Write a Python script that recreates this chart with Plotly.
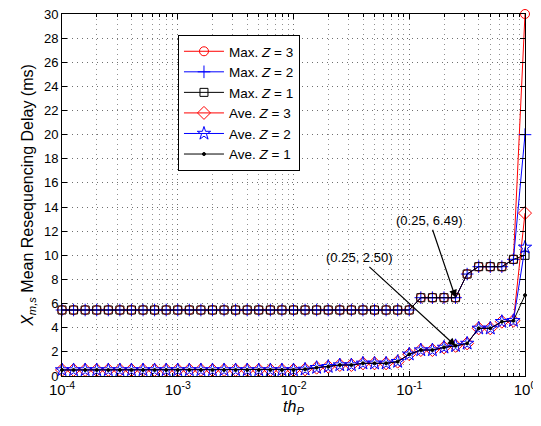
import plotly.graph_objects as go

th_p = [1.0e-4, 1.2589e-4, 1.5849e-4, 1.9953e-4, 2.5119e-4, 3.1623e-4, 3.9811e-4, 5.0119e-4, 6.3096e-4, 7.9433e-4,
        1.0e-3, 1.2589e-3, 1.5849e-3, 1.9953e-3, 2.5119e-3, 3.1623e-3, 3.9811e-3, 5.0119e-3, 6.3096e-3, 7.9433e-3,
        1.0e-2, 1.2589e-2, 1.5849e-2, 1.9953e-2, 2.5119e-2, 3.1623e-2, 3.9811e-2, 5.0119e-2, 6.3096e-2, 7.9433e-2,
        1.0e-1, 1.2589e-1, 1.5849e-1, 1.9953e-1, 2.5119e-1, 3.1623e-1, 3.9811e-1, 5.0119e-1, 6.3096e-1, 7.9433e-1,
        1.0]

x_tickvals = [1e-4, 1e-3, 1e-2, 1e-1, 1.0]
x_ticktext = ["10<sup>-4</sup>", "10<sup>-3</sup>", "10<sup>-2</sup>", "10<sup>-1</sup>", "10<sup>0</sup>"]

max_common = [5.47] * 31 + [6.49, 6.49, 6.49, 6.49, 8.45, 9.06, 9.06, 9.06, 9.67]
max_z3 = max_common + [30.0]
max_z2 = max_common + [20.0]
max_z1 = max_common + [10.0]

ave_common = [0.5] * 21 + [0.55, 0.69, 0.77, 0.91, 0.91, 1.05, 1.05, 1.05, 1.19,
                           1.8, 2.15, 2.15, 2.37, 2.50, 2.7, 3.95, 3.95, 4.5, 4.58]
ave_z3 = ave_common + [13.5]
ave_z2 = ave_common + [10.66]
ave_z1 = ave_common + [6.7]

series = [
    ("Max. <i>Z</i> = 3", max_z3, "#ff0000", "circle-open", 9),
    ("Max. <i>Z</i> = 2", max_z2, "#0000ff", "cross-thin-open", 9),
    ("Max. <i>Z</i> = 1", max_z1, "#000000", "square-open", 8),
    ("Ave. <i>Z</i> = 3", ave_z3, "#ff0000", "diamond-open", 10),
    ("Ave. <i>Z</i> = 2", ave_z2, "#0000ff", "star-open", 10),
    ("Ave. <i>Z</i> = 1", ave_z1, "#000000", "circle", 3),
]

fig = go.Figure()
for name, vals, color, sym, size in series:
    fig.add_trace(go.Scatter(
        x=th_p, y=vals, name=name, mode="lines+markers", cliponaxis=False,
        line=dict(color=color, width=1),
        marker=dict(symbol=sym, size=size, color=color, line=dict(color=color, width=1)),
    ))

font_family = "Liberation Sans, Arial, sans-serif"

# page body adds an 8px offset; figure sized so the plot area lands at x 62-525, y 14-376
fig.update_layout(
    width=533, height=418,
    margin=dict(l=54, r=16, t=6, b=50, autoexpand=False),
    paper_bgcolor="white", plot_bgcolor="white",
    font=dict(family=font_family, size=13, color="black"),
    legend=dict(
        x=0.2505, y=0.942, xanchor="left", yanchor="top",
        bgcolor="white", bordercolor="black", borderwidth=1,
        font=dict(size=13.5), tracegroupgap=0, itemwidth=40,
    ),
    showlegend=True,
)

fig.update_xaxes(
    type="log", range=[-4, 0], tickvals=x_tickvals, ticktext=x_ticktext,
    tickfont=dict(size=15),
    automargin=False, ticklabeloverflow="allow",
    showline=True, linecolor="black", linewidth=1, mirror="ticks",
    ticks="inside", ticklen=5, tickcolor="black",
    showgrid=True, gridcolor="#707070", griddash="1px,4px", gridwidth=1,
    minor=dict(ticks="inside", ticklen=3, tickcolor="black", dtick="D1",
               showgrid=True, gridcolor="#909090", griddash="1px,4px", gridwidth=1),
    zeroline=False,
    title=dict(text="<i>th</i><sub><i>P</i></sub>", standoff=2),
)
fig.update_yaxes(
    range=[0, 30], dtick=2, automargin=False, ticklabeloverflow="allow",
    showline=True, linecolor="black", linewidth=1, mirror="ticks",
    ticks="inside", ticklen=5, tickcolor="black",
    showgrid=True, gridcolor="#707070", griddash="1px,4px", gridwidth=1,
    zeroline=False,
    title=dict(text="<i>X</i><sub><i>m,s</i></sub> Mean Resequencing Delay (ms)", standoff=6),
)

fig.add_annotation(
    x=-0.6, y=6.49, xref="x", yref="y", text="(0.25, 6.49)",
    showarrow=True, ax=-26, ay=-77, arrowhead=2, arrowsize=1.3, arrowwidth=1.2,
    arrowcolor="black", font=dict(size=13),
)
fig.add_annotation(
    x=-0.6, y=2.50, xref="x", yref="y", text="(0.25, 2.50)",
    showarrow=True, ax=-96, ay=-88, arrowhead=2, arrowsize=1.3, arrowwidth=1.2,
    arrowcolor="black", font=dict(size=13),
)

fig.write_html("out.html")
